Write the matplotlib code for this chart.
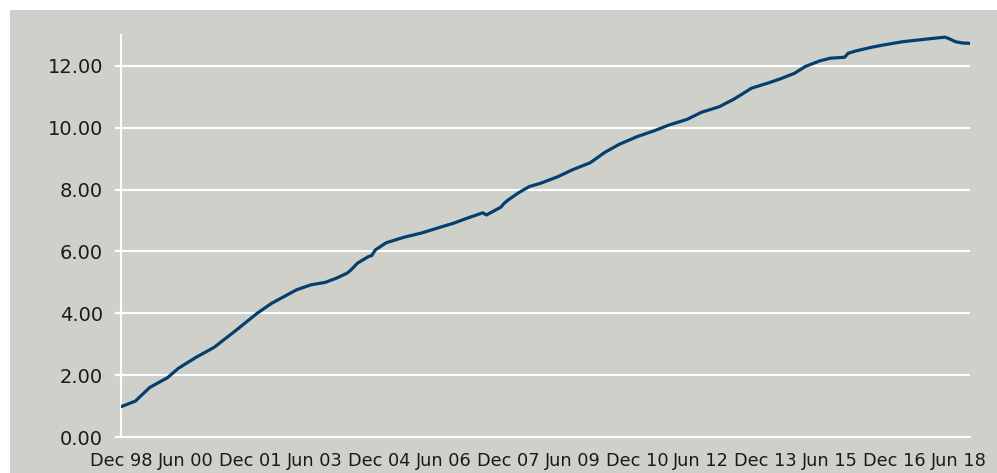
import matplotlib
matplotlib.use("Agg")
import matplotlib.pyplot as plt
from matplotlib.patches import Rectangle

# Cumulative series, month-end readings
dates = [
    "1998-12", "1999-04", "1999-08", "2000-01", "2000-04", "2000-09",
    "2001-02", "2001-08", "2002-02", "2002-06", "2003-01", "2003-05",
    "2003-09", "2003-12", "2004-03", "2004-04", "2004-06", "2004-09",
    "2004-10", "2004-11", "2005-02", "2005-07", "2005-12", "2006-05",
    "2006-09", "2006-12", "2007-05", "2007-06", "2007-10", "2007-11",
    "2007-12", "2008-03", "2008-06", "2008-09", "2009-02", "2009-06",
    "2009-11", "2010-03", "2010-07", "2010-12", "2011-05", "2011-09",
    "2012-02", "2012-06", "2012-11", "2013-03", "2013-05", "2013-08",
    "2014-01", "2014-04", "2014-08", "2014-11", "2015-03", "2015-06",
    "2015-10", "2015-11", "2016-01", "2016-05", "2016-08", "2017-02",
    "2017-09", "2018-02", "2018-03", "2018-05", "2018-07", "2018-09",
]
values = [
    0.98, 1.16, 1.60, 1.92, 2.22, 2.58,
    2.90, 3.44, 4.00, 4.32, 4.76, 4.92,
    5.00, 5.13, 5.29, 5.38, 5.62, 5.83,
    5.87, 6.05, 6.28, 6.46, 6.60, 6.78,
    6.92, 7.05, 7.25, 7.18, 7.43, 7.56,
    7.66, 7.90, 8.10, 8.20, 8.42, 8.64,
    8.87, 9.20, 9.46, 9.71, 9.91, 10.09,
    10.27, 10.50, 10.68, 10.92, 11.06, 11.28,
    11.46, 11.58, 11.76, 11.98, 12.16, 12.25,
    12.28, 12.41, 12.48, 12.59, 12.66, 12.78,
    12.87, 12.93, 12.89, 12.78, 12.74, 12.73,
]

tick_labels = ["Dec 98", "Jun 00", "Dec 01", "Jun 03", "Dec 04", "Jun 06",
               "Dec 07", "Jun 09", "Dec 10", "Jun 12", "Dec 13", "Jun 15",
               "Dec 16", "Jun 18"]
y_ticks = [0, 2, 4, 6, 8, 10, 12]

START_YEAR, START_MONTH = 1998, 12


def month_index(s):
    y, m = (int(p) for p in s.split("-"))
    return (y - START_YEAR) * 12 + (m - START_MONTH)


def label_index(lbl):
    mon, yy = lbl.split()
    m = {"Jun": 6, "Dec": 12}[mon]
    y = 1900 + int(yy) if int(yy) > 50 else 2000 + int(yy)
    return (y - START_YEAR) * 12 + (m - START_MONTH)


x = [month_index(d) for d in dates]
tick_pos = [label_index(t) for t in tick_labels]

BG = "#D0D0CB"
LINE = "#053F6E"
TEXT = "#1a1a1a"

fig = plt.figure(figsize=(9.97, 4.73), dpi=100)
fig.patch.set_facecolor("white")
fig.patches.append(Rectangle((10 / 997, 0), 1 - 10 / 997, 1 - 10 / 473,
                             transform=fig.transFigure, facecolor=BG,
                             edgecolor="none", zorder=-10))

ax = fig.add_axes([121 / 997, 36 / 473, (970 - 121) / 997, (437 - 35) / 473])
ax.patch.set_alpha(0)

ax.plot(x, values, color=LINE, lw=2.3, solid_joinstyle="round",
        solid_capstyle="round", zorder=3)

ax.set_xlim(0, x[-1])
ax.set_ylim(0, 13)

ax.set_yticks(y_ticks)
ax.set_yticklabels([f"{v:.2f}" for v in y_ticks])
ax.set_xticks(tick_pos)
ax.set_xticklabels(tick_labels)

for v in y_ticks[1:]:
    ax.axhline(v, color="white", lw=1.5, zorder=1)

for name, sp in ax.spines.items():
    sp.set_visible(name in ("left", "bottom"))
    sp.set_color("white")
    sp.set_linewidth(1.5)

ax.tick_params(axis="y", direction="out", length=4, width=1.5, color="white",
               pad=9, labelsize=14, labelcolor=TEXT)
ax.tick_params(axis="x", length=0, pad=11, labelsize=12.8, labelcolor=TEXT)
for lbl in ax.get_xticklabels() + ax.get_yticklabels():
    lbl.set_fontfamily(["DejaVu Sans"])

fig.savefig("out.png", dpi=100, facecolor=fig.get_facecolor())
